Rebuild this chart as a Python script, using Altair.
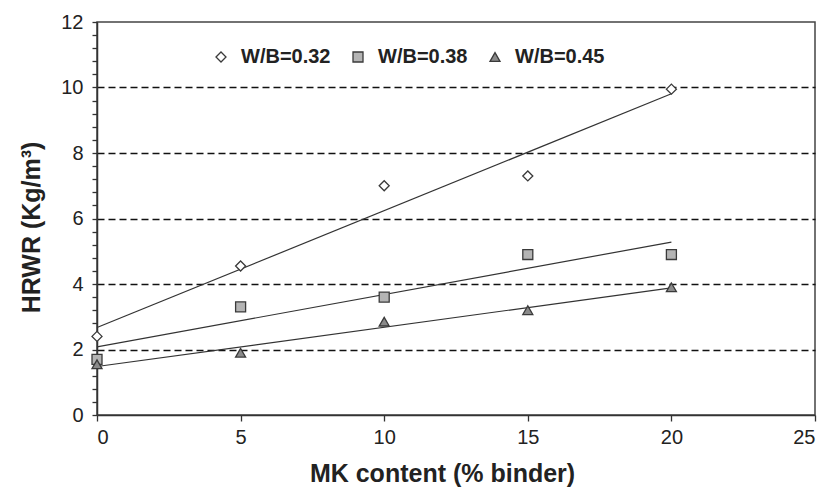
import altair as alt
import pandas as pd

mk = [0, 5, 10, 15, 20]
wb032 = [2.4, 4.55, 7.0, 7.3, 9.95]
wb038 = [1.7, 3.3, 3.6, 4.9, 4.9]
wb045 = [1.55, 1.9, 2.85, 3.2, 3.9]
series = ["W/B=0.32", "W/B=0.38", "W/B=0.45"]
y_ticks = [round(i * 0.4, 1) for i in range(31)]
x_ticks = [0, 5, 10, 15, 20, 25]

rows = []
for name, vals in zip(series, [wb032, wb038, wb045]):
    for xv, yv in zip(mk, vals):
        rows.append({"mk": xv, "hrwr": yv, "series": name})
df = pd.DataFrame(rows)

FONT = "Liberation Sans"

xenc = alt.X("mk:Q", scale=alt.Scale(domain=[0, 25], nice=False),
             axis=alt.Axis(values=x_ticks, title="MK content (% binder)",
                           grid=False, tickSize=6, labelPadding=6,
                           titlePadding=14, titleX=345))
yenc = alt.Y("hrwr:Q", scale=alt.Scale(domain=[0, 12], nice=False),
             axis=alt.Axis(values=y_ticks, title="HRWR (Kg/m³)",
                           labelExpr="datum.value % 2 == 0 ? format(datum.value, 'd') : ''",
                           labelOverlap=False, tickSize=5, labelPadding=9,
                           titlePadding=16, titleY=205,
                           grid=True,
                           gridOpacity=alt.condition(
                               "datum.value % 2 == 0 && datum.value > 0 && datum.value < 12",
                               alt.value(1), alt.value(0))))

legend = alt.Legend(title=None, orient="none", legendX=114, legendY=25,
                    direction="horizontal", symbolSize=100,
                    symbolStrokeColor="#3a3a3a", symbolStrokeWidth=1.3,
                    labelFontSize=20, labelFont=FONT, labelFontWeight="bold",
                    labelColor="#222222", labelOffset=10, columnPadding=17,
                    padding=0)

lines = alt.Chart(df).transform_regression(
    "mk", "hrwr", groupby=["series"], extent=[0, 20]
).mark_line(color="#333333", strokeWidth=1.2).encode(
    x=xenc, y=yenc, detail="series:N"
)

points = alt.Chart(df).mark_point(filled=False, size=100,
                                  strokeWidth=1.3, opacity=1).encode(
    x=xenc, y=yenc,
    stroke=alt.Stroke("series:N",
                      scale=alt.Scale(domain=series, range=["#3a3a3a", "#3a3a3a", "#3a3a3a"]),
                      legend=legend),
    shape=alt.Shape("series:N",
                    scale=alt.Scale(domain=series, range=["diamond", "square", "triangle-up"]),
                    legend=legend),
    fill=alt.Fill("series:N",
                  scale=alt.Scale(domain=series, range=["#ffffff", "#b4b4b4", "#8a8a8a"]),
                  legend=legend),
)

chart = alt.layer(lines, points).properties(
    width=718, height=393,
    autosize=alt.AutoSizeParams(type="none"),
    padding={"left": 97, "top": 22, "right": 14, "bottom": 75},
    background="white",
).configure_view(
    stroke="#444444", strokeWidth=1.5
).configure_axis(
    labelFont=FONT, labelFontSize=20, labelColor="#222222",
    titleFont=FONT, titleFontSize=25, titleFontWeight="bold", titleColor="#222222",
    domainColor="#333333", domainWidth=1.5, tickColor="#333333", tickWidth=1.3,
    gridColor="#111111", gridDash=[7, 4], gridWidth=1.3,
)

chart.save("out.html", embed_options={"renderer": "svg", "actions": False})
